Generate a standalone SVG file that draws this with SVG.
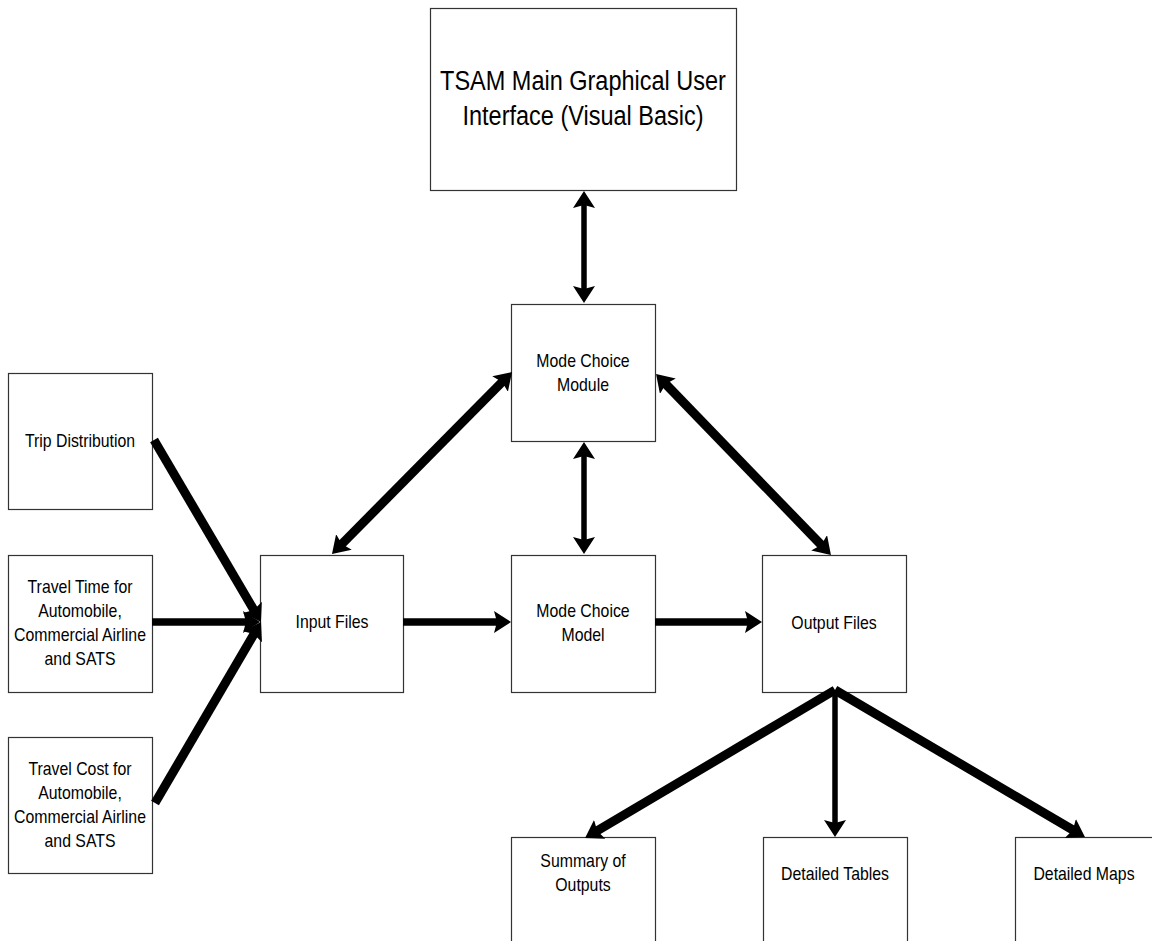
<svg xmlns="http://www.w3.org/2000/svg" width="1152" height="941" viewBox="0 0 1152 941">
<style>
.box{fill:#fff;stroke:#333;stroke-width:1.2}
.lbl{font-family:"Liberation Sans",Arial,sans-serif;font-size:18px;fill:#000;text-anchor:middle}
.ttl{font-family:"Liberation Sans",Arial,sans-serif;font-size:27px;fill:#000;text-anchor:middle}
.c{stroke:#000;fill:none;stroke-linecap:butt}
.w5{stroke-width:5.5}
.w7{stroke-width:7.5}
.w8{stroke-width:9}
</style>
<defs>
<marker id="ah" viewBox="0 -11 17 22" refX="8" refY="0" markerWidth="17" markerHeight="22" markerUnits="userSpaceOnUse" orient="auto-start-reverse">
<path d="M17,0 L0,-11 L3,0 L0,11 Z" fill="#000"/>
</marker>
</defs>
<rect width="1152" height="941" fill="#fff"/>

<g id="gui">
<rect class="box" x="430.5" y="8.5" width="306" height="182"/>
<g transform="translate(583,0) scale(0.87,1)"><text class="ttl" x="0" y="90">TSAM Main Graphical User</text><text class="ttl" x="0" y="125">Interface (Visual Basic)</text></g>
</g>

<g id="module">
<rect class="box" x="511.5" y="304.5" width="144" height="137"/>
<g transform="translate(583,0) scale(0.88,1)"><text class="lbl" x="0" y="367">Mode Choice</text><text class="lbl" x="0" y="391">Module</text></g>
</g>

<g id="trip">
<rect class="box" x="8.5" y="373.5" width="144" height="136"/>
<g transform="translate(80,0) scale(0.88,1)"><text class="lbl" x="0" y="447">Trip Distribution</text></g>
</g>

<g id="time">
<rect class="box" x="8.5" y="555.5" width="144" height="137"/>
<g transform="translate(80,0) scale(0.88,1)"><text class="lbl" x="0" y="593">Travel Time for</text><text class="lbl" x="0" y="617">Automobile,</text><text class="lbl" x="0" y="641">Commercial Airline</text><text class="lbl" x="0" y="665">and SATS</text></g>
</g>

<g id="cost">
<rect class="box" x="8.5" y="737.5" width="144" height="136"/>
<g transform="translate(80,0) scale(0.88,1)"><text class="lbl" x="0" y="775">Travel Cost for</text><text class="lbl" x="0" y="799">Automobile,</text><text class="lbl" x="0" y="823">Commercial Airline</text><text class="lbl" x="0" y="847">and SATS</text></g>
</g>

<g id="input">
<rect class="box" x="260.5" y="555.5" width="143" height="137"/>
<g transform="translate(332,0) scale(0.88,1)"><text class="lbl" x="0" y="628">Input Files</text></g>
</g>

<g id="model">
<rect class="box" x="511.5" y="555.5" width="144" height="137"/>
<g transform="translate(583,0) scale(0.88,1)"><text class="lbl" x="0" y="617">Mode Choice</text><text class="lbl" x="0" y="641">Model</text></g>
</g>

<g id="output">
<rect class="box" x="762.5" y="555.5" width="144" height="137"/>
<g transform="translate(834,0) scale(0.88,1)"><text class="lbl" x="0" y="629">Output Files</text></g>
</g>

<g id="summary">
<rect class="box" x="511.5" y="837.5" width="144" height="130"/>
<g transform="translate(583,0) scale(0.88,1)"><text class="lbl" x="0" y="867">Summary of</text><text class="lbl" x="0" y="891">Outputs</text></g>
</g>

<g id="tables">
<rect class="box" x="763.5" y="837.5" width="144" height="130"/>
<g transform="translate(835,0) scale(0.88,1)"><text class="lbl" x="0" y="880">Detailed Tables</text></g>
</g>

<g id="maps">
<rect class="box" x="1015.5" y="837.5" width="144" height="130"/>
<g transform="translate(1084,0) scale(0.88,1)"><text class="lbl" x="0" y="880">Detailed Maps</text></g>
</g>

<g id="connectors">
<line class="c w5" x1="584" y1="200" x2="584" y2="294" marker-start="url(#ah)" marker-end="url(#ah)"/>
<line class="c w5" x1="584" y1="451" x2="584" y2="545" marker-start="url(#ah)" marker-end="url(#ah)"/>
<line class="c w8" x1="338.3" y1="547.6" x2="505.7" y2="378.4" marker-start="url(#ah)" marker-end="url(#ah)"/>
<line class="c w8" x1="662.3" y1="380.5" x2="824.7" y2="548.5" marker-start="url(#ah)" marker-end="url(#ah)"/>
<line class="c w7" x1="403" y1="622" x2="502" y2="622" marker-end="url(#ah)"/>
<line class="c w7" x1="655" y1="622" x2="753" y2="622" marker-end="url(#ah)"/>
<line class="c w7" x1="152" y1="622" x2="251" y2="622" marker-end="url(#ah)"/>
<line class="c w8" x1="154" y1="440" x2="256.4" y2="614.3" marker-end="url(#ah)"/>
<line class="c w8" x1="155" y1="803" x2="256.5" y2="629.8" marker-end="url(#ah)"/>
<line class="c w8" x1="835" y1="690" x2="592.8" y2="833.4" marker-end="url(#ah)"/>
<line class="c w5" x1="835" y1="690" x2="835" y2="828" marker-end="url(#ah)"/>
<line class="c w8" x1="835" y1="690" x2="1077.2" y2="832.5" marker-end="url(#ah)"/>
</g>
</svg>
